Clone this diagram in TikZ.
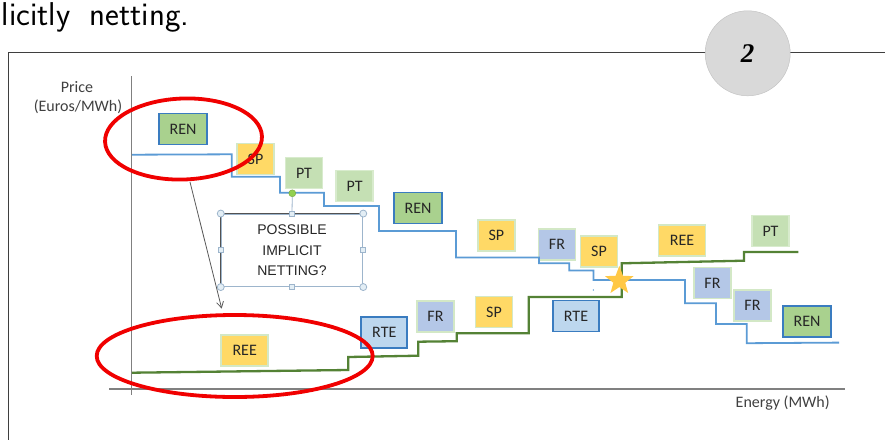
\documentclass[tikz,border=0pt]{standalone}
\usepackage{fontspec}
\newfontfamily\calibri{Carlito}
\newfontfamily\arialf{Liberation Sans}
\newfontfamily\timesf{Liberation Serif}
\usetikzlibrary{shapes.geometric,arrows.meta}
\definecolor{framecol}{HTML}{3F3F3F}
\definecolor{circgray}{HTML}{D9D9D9}
\definecolor{circedge}{HTML}{C4C4C4}
\definecolor{axiscol}{HTML}{808080}
\definecolor{bluecurve}{HTML}{5B9BD5}
\definecolor{greencurve}{HTML}{548235}
\definecolor{rengreen}{HTML}{A9D18E}
\definecolor{boxblue}{HTML}{3A7CC0}
\definecolor{spyellow}{HTML}{FFD966}
\definecolor{palegreen}{HTML}{D3E8C6}
\definecolor{ptgreen}{HTML}{C5E0B4}
\definecolor{ptedge}{HTML}{D8EBCD}
\definecolor{frblue}{HTML}{B4C7E7}
\definecolor{rteblue}{HTML}{BDD7EE}
\definecolor{redcol}{HTML}{F00000}
\definecolor{starcol}{HTML}{FFC845}
\definecolor{textcol}{HTML}{262626}
\definecolor{labcol}{HTML}{404040}
\definecolor{selblue}{HTML}{9DB5CC}
\definecolor{handlefill}{HTML}{E3EEF5}
\definecolor{rotgreen}{HTML}{92D050}
\definecolor{arrowcol}{HTML}{595959}
\tikzset{
  lbl/.style={minimum height=31pt, inner sep=0pt, text=textcol,
    font=\calibri\fontsize{16}{18}\selectfont, line width=1.5pt},
  renbox/.style={lbl, fill=rengreen, draw=boxblue, minimum width=48pt, line width=1.8pt},
  spbox/.style={lbl, fill=spyellow, draw=palegreen, minimum width=37pt},
  reebox/.style={lbl, fill=spyellow, draw=palegreen, minimum width=47pt},
  ptbox/.style={lbl, fill=ptgreen, draw=ptedge, minimum width=37pt},
  frbox/.style={lbl, fill=frblue, draw=palegreen, minimum width=37pt},
  rtebox/.style={lbl, fill=rteblue, draw=boxblue, minimum width=46pt, line width=1.8pt},
  axislabel/.style={inner sep=0pt, text=labcol, font=\calibri\fontsize{16}{18}\selectfont},
  redring/.style={ellipse, draw=redcol, line width=3.8pt, inner sep=0pt},
  handlec/.style={circle, draw=selblue, fill=handlefill, line width=0.8pt, minimum size=7pt, inner sep=0pt},
  handles/.style={rectangle, draw=selblue, fill=handlefill, line width=0.8pt, minimum size=5pt, inner sep=0pt},
  supplyline/.style={bluecurve, line width=1.8pt, line join=miter},
  demandline/.style={greencurve, line width=2.3pt, line join=miter},
}
\begin{document}
\begin{tikzpicture}[x=1pt,y=-1pt]
\useasboundingbox (0,0) rectangle (885,439);
\clip (0,0) rectangle (885,439);
\fill[white] (0,0) rectangle (885,439);

% heading fragment
\node[anchor=base west, inner sep=0pt, text=black,
  font=\sffamily\fontsize{33}{40}\selectfont] (title) at (-14.5,25) {plicitly\hspace{9pt} netting.};

% frame
\draw[framecol, line width=1.5pt] (8.3,470) -- (8.3,52.3) -- (900,52.3);
\node[circle, fill=circgray, draw=circedge, line width=0.5pt, minimum size=85pt, inner sep=0pt]
  (num) at (747.7,53.3) {\timesf\bfseries\itshape\fontsize{27}{30}\selectfont 2};

% axes
\draw[axiscol, line width=1.3pt] (131.7,76) -- (131.7,395);
\draw[axiscol, line width=1.3pt] (109,389) -- (845,389);
\node[axislabel] (price) at (77,87) {Price};
\node[axislabel] (unit) at (78,107) {(Euros/MWh)};
\node[axislabel] (energy) at (782.7,403.3) {Energy (MWh)};

% boxes of the supply curve
\node[renbox] (ren1) at (183,129) {REN};
\node[spbox]  (sp1)  at (255.5,159) {SP};
\node[ptbox]  (pt1)  at (304,173) {PT};
\node[ptbox]  (pt2)  at (354.7,186) {PT};
\node[renbox] (ren2) at (418,208) {REN};
\node[spbox]  (sp2)  at (496.3,235.3) {SP};
\node[frbox]  (fr1)  at (557,244.7) {FR};
\node[spbox]  (sp3)  at (599,251.7) {SP};
\node[frbox]  (fr2)  at (712.5,283) {FR};
\node[frbox]  (fr3)  at (752.5,305.3) {FR};
\node[renbox] (ren3) at (807,321.7) {REN};

% boxes of the demand curve
\node[reebox] (ree1) at (244.7,350.5) {REE};
\node[rtebox] (rte1) at (384.3,332.7) {RTE};
\node[frbox]  (fr4)  at (435.5,316.7) {FR};
\node[spbox]  (sp4)  at (494,312) {SP};
\node[rtebox] (rte2) at (576,316) {RTE};
\node[reebox] (ree2) at (682,240.3) {REE};
\node[ptbox]  (pt3)  at (770.5,231) {PT};

% supply curve
\draw[supplyline] (132,154.7) -- (231.7,154.3) -- (231.7,176.7) -- (280,176.7) -- (280,192.7)
  -- (324,192.7) -- (324,206) -- (379,206) -- (379,230.9) -- (456,230.9) -- (456,257.5)
  -- (539,257.5) -- (539,263.3) -- (569.3,263.3) -- (569.3,270.5) -- (593.5,270.5)
  -- (593.5,280) -- (685,280) -- (685,303.3) -- (716,303.3) -- (716,324) -- (746.7,324)
  -- (746.7,343.2) -- (839,342.6);
\fill[bluecurve] (593.3,290) circle (0.8pt);

% demand curve
\draw[demandline] (132,372.7) -- (348.3,370) -- (348.3,357) -- (418.3,355.7) -- (418.3,341.7)
  -- (456.7,341.2) -- (456.7,333.3) -- (528.8,333.3) -- (528.8,297) -- (621.7,297)
  -- (621.7,263.3) -- (744,260.7) -- (744,251.9) -- (798.3,251.9);

% crossing point
\node[star, star points=5, star point ratio=2.4, fill=starcol, inner sep=0pt, minimum size=30pt]
  (cross) at (619.3,280.8) {};

% text box in edit mode
\node[draw=selblue, line width=0.8pt, minimum width=141.7pt, minimum height=72.7pt, inner sep=0pt,
  align=center, text=textcol, font=\arialf\fontsize{14}{20.2}\selectfont]
  (tb) at (292,250.3) {POSSIBLE\\IMPLICIT\\NETTING?};
\draw[framecol!90, line width=1.4pt] (tb.south west) -- (tb.north west) -- (tb.north east);
\node[circle, fill=rotgreen, draw=rotgreen!80!black, line width=0.4pt, minimum size=7pt, inner sep=0pt]
  (rot) at (292.3,193.3) {};
\draw[selblue, line width=0.8pt] (rot) -- (tb.north);
\node[handlec] (h1) at (tb.north west) {};
\node[handlec] (h2) at (tb.north east) {};
\node[handlec] (h3) at (tb.south west) {};
\node[handlec] (h4) at (tb.south east) {};
\node[handles] (h5) at (tb.north) {};
\node[handles] (h6) at (tb.south) {};
\node[handles] (h7) at (tb.west) {};
\node[handles] (h8) at (tb.east) {};

% red rings
\node[redring, minimum width=157pt, minimum height=81pt, rotate=2] (ring1) at (183.5,139) {};
\node[redring, minimum width=276pt, minimum height=82pt] (ring2) at (234.7,356) {};

% arrow from the upper ring to the lower one
\coordinate (arrS) at (190,182);
\coordinate (arrE) at (221.7,308.5);
\draw[arrowcol, line width=0.8pt, -{Straight Barb[length=6pt,width=7pt]}] (arrS) -- (arrE);
\end{tikzpicture}
\end{document}
